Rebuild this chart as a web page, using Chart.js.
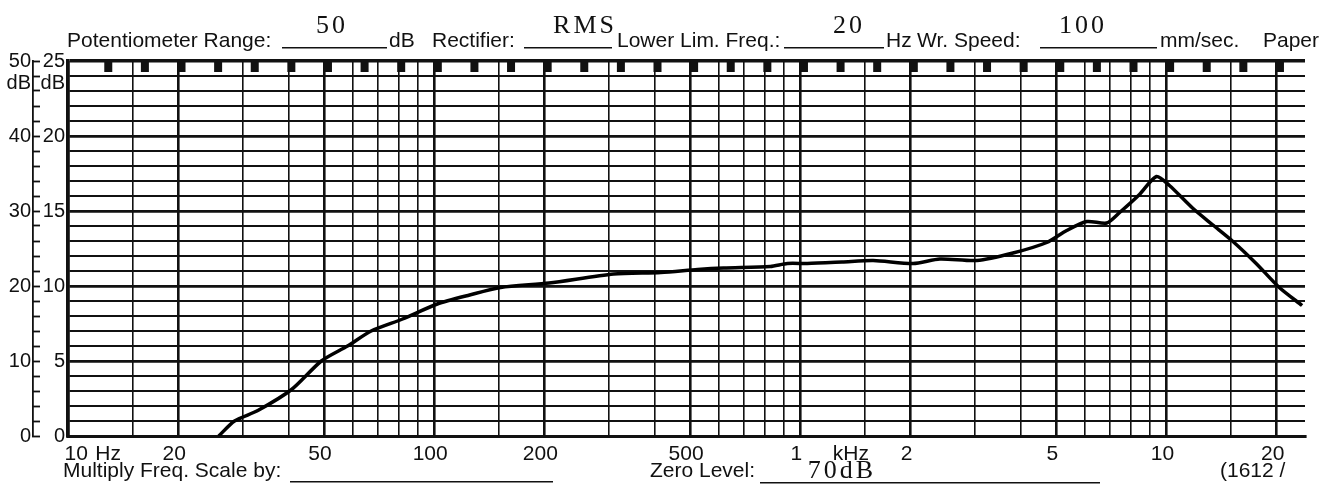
<!DOCTYPE html>
<html>
<head>
<meta charset="utf-8">
<title>Level recorder chart</title>
<script src="https://cdn.jsdelivr.net/npm/chart.js@4.4.1/dist/chart.umd.min.js"></script>
<style>
  html, body { margin: 0; padding: 0; background: #fff; }
  #wrap { position: relative; width: 1322px; height: 486px; }
</style>
</head>
<body>
<div id="wrap"><canvas id="chart"></canvas></div>
<script>
// ─────────────────────────────────────────────────────────────
// Level recorder paper – frequency response trace
// ─────────────────────────────────────────────────────────────

// recorded trace: frequency (Hz) and level on the 25 dB scale
const traceHz = [25.8, 28.5, 33, 40.8, 49.2, 58, 67.3, 82, 102, 125, 152, 206, 309, 416, 524, 617, 828, 922, 1045, 1300,
                 1581, 2033, 2406, 3035, 3810, 4710, 5340, 6060, 6870, 7450, 8440, 9390, 10190, 11780, 13340, 15140, 17580, 20330, 23470];
const traceDb = [0, 1.0, 1.7, 3.1, 5.0, 6.0, 7.0, 7.8, 8.8, 9.4, 9.9, 10.2, 10.8, 10.9, 11.1, 11.2, 11.3, 11.5, 11.5, 11.6,
                 11.7, 11.5, 11.8, 11.7, 12.2, 12.9, 13.7, 14.3, 14.2, 14.9, 16.1, 17.3, 16.7, 15.2, 14.1, 13.0, 11.5, 9.9, 8.7];

// printed vertical lines of the paper
const gridHz = [10, 15, 20, 30, 40, 50, 60, 70, 80, 90,
                100, 150, 200, 300, 400, 500, 600, 700, 800, 900,
                1000, 1500, 2000, 3000, 4000, 5000, 6000, 7000, 8000, 9000,
                10000, 15000, 20000];
const majorHz = [10, 20, 50, 100, 200, 500, 1000, 2000, 5000, 10000, 20000];

// printed frequency labels (the first "10", "Hz" and "kHz" sit off the lines)
const freqLabelHz = [10.8, 13.2, 20, 50, 100, 200, 500, 1000, 1410, 2000, 5000, 10000, 20000];
const freqLabels  = ['10', 'Hz', '20', '50', '100', '200', '500', '1', 'kHz', '2', '5', '10', '20'];

// left scales: 25 dB inner, 50 dB outer
const innerDbLabels = [0, 5, 10, 15, 20, 25];
const outerDbLabels = [0, 10, 20, 30, 40, 50];
const innerUnitAt = 23.5;
const outerUnitAt = 47;

const INK = '#111';
const NONE = 'rgba(0,0,0,0)';
const SANS = '"Liberation Sans", Arial, sans-serif';
const TYPED = '"Liberation Serif", serif';

function range(a, b, step) {
    const out = [];
    for (let v = a; v <= b + 1e-9; v += step) out.push(v);
    return out;
}

// ── paper print: sprocket marks, header and footer ───────────
const paperPrint = {
    id: 'paperPrint',
    afterDraw(chart) {
        const ctx = chart.ctx;
        const xs = chart.scales.x;
        const area = chart.chartArea;
        ctx.save();

        // sprocket marks along the top edge, every 1/10 decade
        ctx.fillStyle = INK;
        for (let k = 0; ; k++) {
            const px = xs.getPixelForValue(10 * Math.pow(10, 0.11 + 0.1 * k));
            if (px > area.right) break;
            ctx.fillRect(px - 4, area.top, 8, 11);
        }

        const label = (txt, x, y) => {
            ctx.font = '21px ' + SANS;
            ctx.textAlign = 'left';
            ctx.textBaseline = 'alphabetic';
            ctx.fillText(txt, x, y);
        };
        const typed = (txt, cx, y) => {
            ctx.font = '26px ' + TYPED;
            ctx.letterSpacing = '3px';
            ctx.textAlign = 'center';
            ctx.textBaseline = 'alphabetic';
            ctx.fillText(txt, cx, y);
            ctx.letterSpacing = '0px';
        };
        const rule = (x1, x2, y) => {
            ctx.fillRect(x1, y, x2 - x1, 1.5);
        };

        ctx.fillStyle = INK;
        // header
        label('Potentiometer Range:', 67, 47);
        rule(282, 387, 47);
        typed('50', 332, 33);
        label('dB', 389, 47);
        label('Rectifier:', 432, 47);
        rule(524, 612, 47);
        typed('RMS', 585, 33);
        label('Lower Lim. Freq.:', 617, 47);
        rule(784, 884, 47);
        typed('20', 849, 33);
        label('Hz', 886, 47);
        label('Wr. Speed:', 917, 47);
        rule(1040, 1157, 47);
        typed('100', 1083, 33);
        label('mm/sec.', 1160, 47);
        label('Paper', 1263, 47);

        // footer
        label('Multiply Freq. Scale by:', 63, 477);
        rule(290, 553, 481);
        label('Zero Level:', 650, 477);
        rule(760, 1100, 482);
        typed('70dB', 842, 478);
        label('(1612 /', 1220, 477);

        ctx.restore();
    }
};

const ctx = document.getElementById('chart');

new Chart(ctx, {
    type: 'line',
    data: {
        datasets: [{
            data: traceHz.map((f, i) => ({ x: f, y: traceDb[i] })),
            borderColor: '#000',
            borderWidth: 3.5,
            pointRadius: 0,
            tension: 0.25,
            fill: false
        }]
    },
    options: {
        responsive: true,
        maintainAspectRatio: false,
        animation: false,
        layout: { padding: { top: 61, right: 17, left: 0, bottom: 0 } },
        plugins: {
            legend: { display: false },
            tooltip: { enabled: false }
        },
        scales: {
            x: {
                type: 'logarithmic',
                min: 10, max: 23900,
                afterBuildTicks: (axis) => {
                    const vals = [...new Set(gridHz.concat(freqLabelHz))].sort((a, b) => a - b);
                    axis.ticks = vals.map(v => ({ value: v }));
                },
                afterFit: (s) => { s.height = 50; },
                border: { display: true, color: INK, width: 3 },
                grid: {
                    drawTicks: false,
                    color: (c) => (c.tick && gridHz.includes(c.tick.value)) ? INK : NONE,
                    lineWidth: (c) => (c.tick && majorHz.includes(c.tick.value)) ? 2.6 : 1.6
                },
                ticks: {
                    autoSkip: false, maxRotation: 0, minRotation: 0,
                    padding: 6, labelOffset: -4,
                    color: INK,
                    font: { family: SANS, size: 21 },
                    callback: (v) => {
                        const i = freqLabelHz.indexOf(v);
                        return i >= 0 ? freqLabels[i] : '';
                    }
                }
            },
            y: {
                min: 0, max: 25,
                position: 'left',
                weight: 0,
                afterBuildTicks: (axis) => {
                    axis.ticks = range(0, 25, 1).concat([innerUnitAt])
                        .sort((a, b) => a - b).map(v => ({ value: v }));
                },
                afterFit: (s) => { s.width = 35; },
                border: { display: true, color: INK, width: 3.5 },
                grid: {
                    drawTicks: false,
                    color: (c) => (c.tick && c.tick.value === innerUnitAt) ? NONE : INK,
                    lineWidth: (c) => {
                        const v = c.tick ? c.tick.value : 0;
                        if (v === 25) return 3.5;
                        return v % 5 === 0 ? 2.8 : 1.9;
                    }
                },
                ticks: {
                    autoSkip: false, padding: 3,
                    color: INK,
                    font: { family: SANS, size: 20 },
                    callback: (v) => v === innerUnitAt ? 'dB' : (innerDbLabels.includes(v) ? String(v) : '')
                }
            },
            y2: {
                min: 0, max: 50,
                position: 'left',
                weight: 1,
                afterBuildTicks: (axis) => {
                    axis.ticks = range(0, 50, 2).concat([outerUnitAt])
                        .sort((a, b) => a - b).map(v => ({ value: v }));
                },
                afterFit: (s) => { s.width = 33; },
                border: { display: true, color: INK, width: 1.8 },
                grid: {
                    drawOnChartArea: false,
                    drawTicks: true,
                    tickLength: -7,
                    tickWidth: 1.8,
                    tickColor: (c) => (c.tick && c.tick.value === outerUnitAt) ? NONE : INK
                },
                ticks: {
                    autoSkip: false, padding: 9,
                    color: INK,
                    font: { family: SANS, size: 20 },
                    callback: (v) => v === outerUnitAt ? 'dB' : (outerDbLabels.includes(v) ? String(v) : '')
                }
            }
        }
    },
    plugins: [paperPrint]
});
</script>
</body>
</html>
